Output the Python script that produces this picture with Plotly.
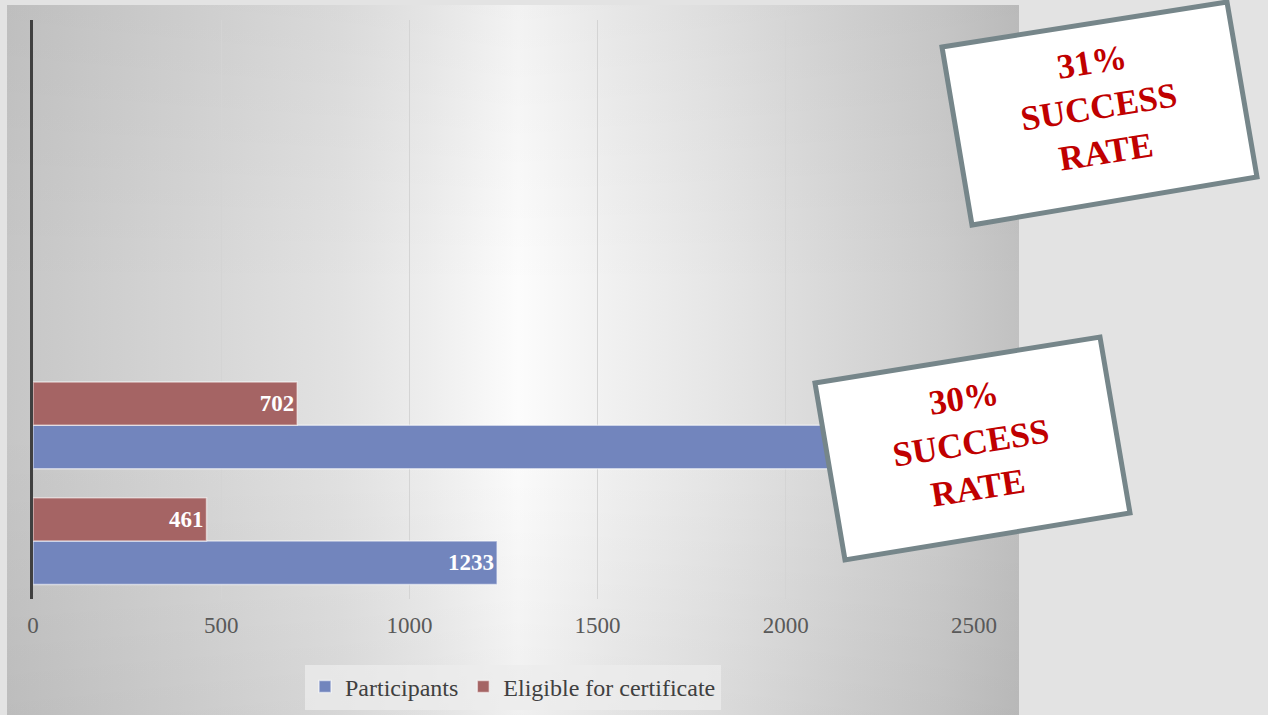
import base64
import plotly.graph_objects as go

# ---------------- data ----------------
categories = ["Cohort 1", "Cohort 2"]
participants = [1233, 2340]
eligible = [461, 702]
x_ticks = [0, 500, 1000, 1500, 2000, 2500]
callout_texts = ["30%<br>SUCCESS<br>RATE", "31%<br>SUCCESS<br>RATE"]

# ---------------- layout geometry ----------------
W, H = 1268, 715
L, R, T, B = 33, 294, 20, 116
PW, PH = W - L - R, H - T - B

SERIF = "Palatino Linotype, Book Antiqua, Palatino, Liberation Serif, serif"


def pp(x, y):
    """pixel -> paper coordinates"""
    return (x - L) / PW, 1 - (y - T) / PH


def poly_path(pts):
    s = ""
    for i, (x, y) in enumerate(pts):
        fx, fy = pp(x, y)
        s += ("M" if i == 0 else "L") + f"{fx:.5f},{fy:.5f}"
    return s + "Z"


# background gradient for chart area (SVG data URI)
cw, ch = 1012, 710
stops_h = [(0.0, "#c6c6c6"), (0.19, "#d6d6d6"), (0.33, "#e2e2e2"),
           (0.42, "#eeeeee"), (0.505, "#fcfcfc"), (0.6, "#f0f0f0"),
           (0.7, "#e6e6e6"), (0.8, "#dadada"), (0.92, "#cdcdcd"),
           (1.0, "#c1c1c1")]
stop_str = "".join(f"<stop offset='{o}' stop-color='{c}'/>" for o, c in stops_h)
svg = f"""<svg xmlns='http://www.w3.org/2000/svg' width='{cw}' height='{ch}' viewBox='0 0 {cw} {ch}' preserveAspectRatio='none'>
<defs>
<linearGradient id='h' x1='0' y1='0' x2='1' y2='0'>{stop_str}</linearGradient>
<linearGradient id='v' x1='0' y1='0' x2='0' y2='1'>
<stop offset='0' stop-color='#000' stop-opacity='0.04'/>
<stop offset='0.4' stop-color='#000' stop-opacity='0'/>
<stop offset='0.6' stop-color='#000' stop-opacity='0'/>
<stop offset='1' stop-color='#000' stop-opacity='0.05'/>
</linearGradient>
</defs>
<rect width='{cw}' height='{ch}' fill='url(#h)'/>
<rect width='{cw}' height='{ch}' fill='url(#v)'/>
</svg>"""
svg_uri = "data:image/svg+xml;base64," + base64.b64encode(svg.encode()).decode()

fig = go.Figure()

bar_line = dict(color="rgba(255,255,255,0.55)", width=1.5)
label_font = dict(family=SERIF, size=23, color="white", weight="bold")

fig.add_trace(go.Bar(
    y=categories, x=participants, orientation="h", name="Participants",
    marker=dict(color="#7285bd", line=bar_line),
    text=participants, textposition="inside", insidetextanchor="end",
    textfont=label_font, cliponaxis=False,
))
fig.add_trace(go.Bar(
    y=categories, x=eligible, orientation="h", name="Eligible for certificate",
    marker=dict(color="#a56464", line=bar_line),
    text=eligible, textposition="inside", insidetextanchor="end",
    textfont=label_font, cliponaxis=False,
))

# callout boxes (rotated rectangles)
box1 = [(815, 383), (1100, 337), (1130, 513), (845, 560)]
box2 = [(942, 47), (1227, 2), (1257, 177), (972, 225)]
shapes = []
for box in (box1, box2):
    shapes.append(dict(type="path", xref="paper", yref="paper",
                       path=poly_path(box), fillcolor="white",
                       line=dict(color="#76868a", width=5), layer="above"))

annotations = []
for (cx, cy), txt in zip([(971, 443), (1099, 107)], callout_texts):
    fx, fy = pp(cx, cy)
    annotations.append(dict(xref="paper", yref="paper", x=fx, y=fy,
                            text=txt, showarrow=False, textangle=-9,
                            xanchor="center", yanchor="middle",
                            font=dict(family=SERIF, size=35, color="#c00000",
                                      weight="bold")))

ix, iy = pp(7, 5)
ix2, iy2 = pp(1019, 715)
images = [dict(source=svg_uri, xref="paper", yref="paper", x=ix, y=iy,
               sizex=ix2 - ix, sizey=iy - iy2, xanchor="left", yanchor="top",
               sizing="stretch", layer="below")]

lx, ly = pp(513, 687)

fig.update_layout(
    width=W, height=H,
    margin=dict(l=L, r=R, t=T, b=B, autoexpand=False),
    paper_bgcolor="#e3e3e3",
    plot_bgcolor="rgba(0,0,0,0)",
    barmode="group", bargap=0.25, bargroupgap=0,
    font=dict(family=SERIF, color="#404040"),
    showlegend=True,
    legend=dict(orientation="h", x=lx, y=ly, xanchor="center", yanchor="middle",
                bgcolor="rgba(236,236,236,0.75)", borderwidth=0,
                font=dict(family=SERIF, size=24, color="#404040"),
                traceorder="normal"),
    xaxis=dict(range=[0, 2500], tickvals=x_ticks, showgrid=True,
               gridcolor="#d4d4d4", gridwidth=1, zeroline=False, showline=False,
               ticks="", ticklabelstandoff=10,
               tickfont=dict(family=SERIF, size=23, color="#595959"),
               fixedrange=True),
    yaxis=dict(type="category", range=[-0.5, 4.5], showticklabels=False,
               showgrid=False, zeroline=False, showline=True,
               linecolor="#404040", linewidth=3, ticks="", fixedrange=True),
    shapes=shapes, annotations=annotations, images=images,
)

fig.write_html("out.html", config={"displayModeBar": False},
               post_script="document.body.style.margin='0';document.body.style.background='#e3e3e3';")
